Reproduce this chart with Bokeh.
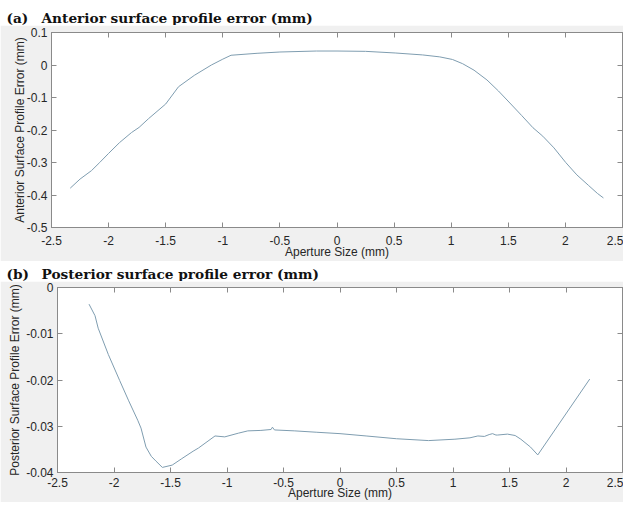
from bokeh.plotting import figure
from bokeh.layouts import column
from bokeh.models import Range1d, LinearAxis, FixedTicker, CustomJSTickFormatter
from bokeh.core.properties import value
from bokeh.embed import file_html
from bokeh.resources import INLINE

# ---------------- data ----------------
ant_x = [-2.336, -2.25, -2.15, -2.078, -2.0, -1.905, -1.8, -1.733, -1.65, -1.5,
         -1.388, -1.25, -1.1, -1.0, -0.928, -0.7, -0.5, -0.181, 0.0, 0.25,
         0.509, 0.75, 0.9, 1.011, 1.1, 1.2, 1.313, 1.414, 1.514, 1.616,
         1.716, 1.802, 1.9, 2.003, 2.1, 2.204, 2.28, 2.333]
ant_y = [-0.379, -0.351, -0.325, -0.300, -0.272, -0.239, -0.208, -0.192, -0.165, -0.120,
         -0.067, -0.032, 0.000, 0.018, 0.030, 0.036, 0.040, 0.043, 0.043, 0.042,
         0.037, 0.031, 0.025, 0.017, 0.004, -0.016, -0.046, -0.080, -0.117, -0.155,
         -0.193, -0.219, -0.255, -0.300, -0.338, -0.371, -0.395, -0.409]

post_x = [-2.221, -2.168, -2.14, -2.05, -1.95, -1.87, -1.79, -1.761, -1.717, -1.67,
          -1.63, -1.572, -1.485, -1.4, -1.3, -1.252, -1.106, -1.02, -0.9, -0.816,
          -0.7, -0.61, -0.598, -0.58, -0.4, -0.205, 0.0, 0.231, 0.5, 0.784,
          1.017, 1.15, 1.22, 1.278, 1.32, 1.35, 1.38, 1.395, 1.482, 1.55,
          1.6, 1.686, 1.75, 2.21]
post_y = [-0.0036, -0.0061, -0.0088, -0.0145, -0.0201, -0.0245, -0.0287, -0.0304, -0.0345, -0.0365,
          -0.0375, -0.0389, -0.0384, -0.0370, -0.0354, -0.0347, -0.0321, -0.0323, -0.0315, -0.0310,
          -0.0309, -0.0307, -0.0302, -0.0308, -0.0310, -0.0313, -0.0316, -0.0321, -0.0327, -0.0331,
          -0.0328, -0.0325, -0.0321, -0.0322, -0.0318, -0.0316, -0.0319, -0.0319, -0.0317, -0.0320,
          -0.0328, -0.0345, -0.0362, -0.0198]

x_ticks = [-2.5, -2, -1.5, -1, -0.5, 0, 0.5, 1, 1.5, 2, 2.5]
x_tick_labels = ["-2.5", "-2", "-1.5", "-1", "-0.5", "0", "0.5", "1", "1.5", "2", "2.5"]
ant_y_ticks = [0.1, 0, -0.1, -0.2, -0.3, -0.4, -0.5]
ant_y_tick_labels = ["0.1", "0", "-0.1", "-0.2", "-0.3", "-0.4", "-0.5"]
post_y_ticks = [0, -0.01, -0.02, -0.03, -0.04]
post_y_tick_labels = ["0", "-0.01", "-0.02", "-0.03", "-0.04"]

title_a = ["(a)", "Anterior surface profile error (mm)"]
title_b = ["(b)", "Posterior surface profile error (mm)"]
x_label = "Aperture Size (mm)"
ylabel_a = "Anterior Surface Profile Error (mm)"
ylabel_b = "Posterior Surface Profile Error (mm)"

# ---------------- style ----------------
W = 623
GRAY = "#f0f0f0"
AX = "#8a8a8a"
TXT = "#262626"
LINE = "#7f9db0"
SANS = "Liberation Sans"
SERIF = "DejaVu Serif"
FS = "12px"


def title_fig(parts, h, yc):
    p = figure(width=W, height=h, x_range=Range1d(0, W), y_range=Range1d(0, h),
               x_axis_type=None, y_axis_type=None, min_border=0, frame_align=False,
               output_backend="svg", toolbar_location=None)
    p.grid.visible = False
    p.outline_line_color = None
    p.background_fill_color = "white"
    p.border_fill_color = "white"
    p.text(x=[6, 41], y=[yc, yc], text=parts, text_font=value(SERIF),
           text_font_style="bold", text_font_size="13.7px", text_baseline="middle",
           text_color="#111111")
    return p


def style_axis(ax, labels_visible=True):
    ax.axis_line_color = AX
    ax.major_tick_line_color = AX
    ax.major_tick_in = 5
    ax.major_tick_out = 0
    ax.minor_tick_line_color = None
    if labels_visible:
        ax.major_label_text_font = SANS
        ax.major_label_text_font_size = FS
        ax.major_label_text_color = TXT
        ax.axis_label_text_font = SANS
        ax.axis_label_text_font_size = FS
        ax.axis_label_text_font_style = "normal"
        ax.axis_label_text_color = TXT
    else:
        ax.formatter = CustomJSTickFormatter(code="return ''")
        ax.major_label_text_font_size = "1px"
        ax.major_label_standoff = 0


def panel(xs, ys, yticks, ylabels, ylabel, h, left, top, bottom,
          x_standoff, xlab_standoff, y_standoff, ylab_standoff):
    p = figure(width=W, height=h, x_range=Range1d(-2.5, 2.5),
               y_range=Range1d(min(yticks), max(yticks)),
               min_border_left=left, min_border_right=1,
               min_border_top=top, min_border_bottom=bottom, frame_align=False,
               output_backend="svg", toolbar_location=None)
    p.grid.visible = False
    p.background_fill_color = "white"
    p.border_fill_color = GRAY
    p.outline_line_color = AX

    xa = p.xaxis[0]
    xa.ticker = FixedTicker(ticks=x_ticks)
    xa.major_label_overrides = dict(zip(x_ticks, x_tick_labels))
    xa.axis_label = x_label
    style_axis(xa)
    xa.major_label_standoff = x_standoff
    xa.axis_label_standoff = xlab_standoff

    ya = p.yaxis[0]
    ya.ticker = FixedTicker(ticks=yticks)
    ya.major_label_overrides = dict(zip(yticks, ylabels))
    ya.axis_label = ylabel
    style_axis(ya)
    ya.major_label_standoff = y_standoff
    ya.axis_label_standoff = ylab_standoff

    top_ax = LinearAxis(ticker=FixedTicker(ticks=x_ticks))
    style_axis(top_ax, labels_visible=False)
    p.add_layout(top_ax, "above")
    right_ax = LinearAxis(ticker=FixedTicker(ticks=yticks))
    style_axis(right_ax, labels_visible=False)
    p.add_layout(right_ax, "right")

    p.line(xs, ys, line_color=LINE, line_width=1)
    return p


ta = title_fig(title_a, 25, 8)
pa = panel(ant_x, ant_y, ant_y_ticks, ant_y_tick_labels, ylabel_a,
           236, 51, 7, 32, 8, -3, 4, -3)
tb = title_fig(title_b, 20, 8)
pb = panel(post_x, post_y, post_y_ticks, post_y_tick_labels, ylabel_b,
           221, 57, 6, 28, 5, -4, 4, 1)

layout = column(ta, pa, tb, pb, spacing=0)

open("out.html", "w").write(file_html(layout, INLINE))
